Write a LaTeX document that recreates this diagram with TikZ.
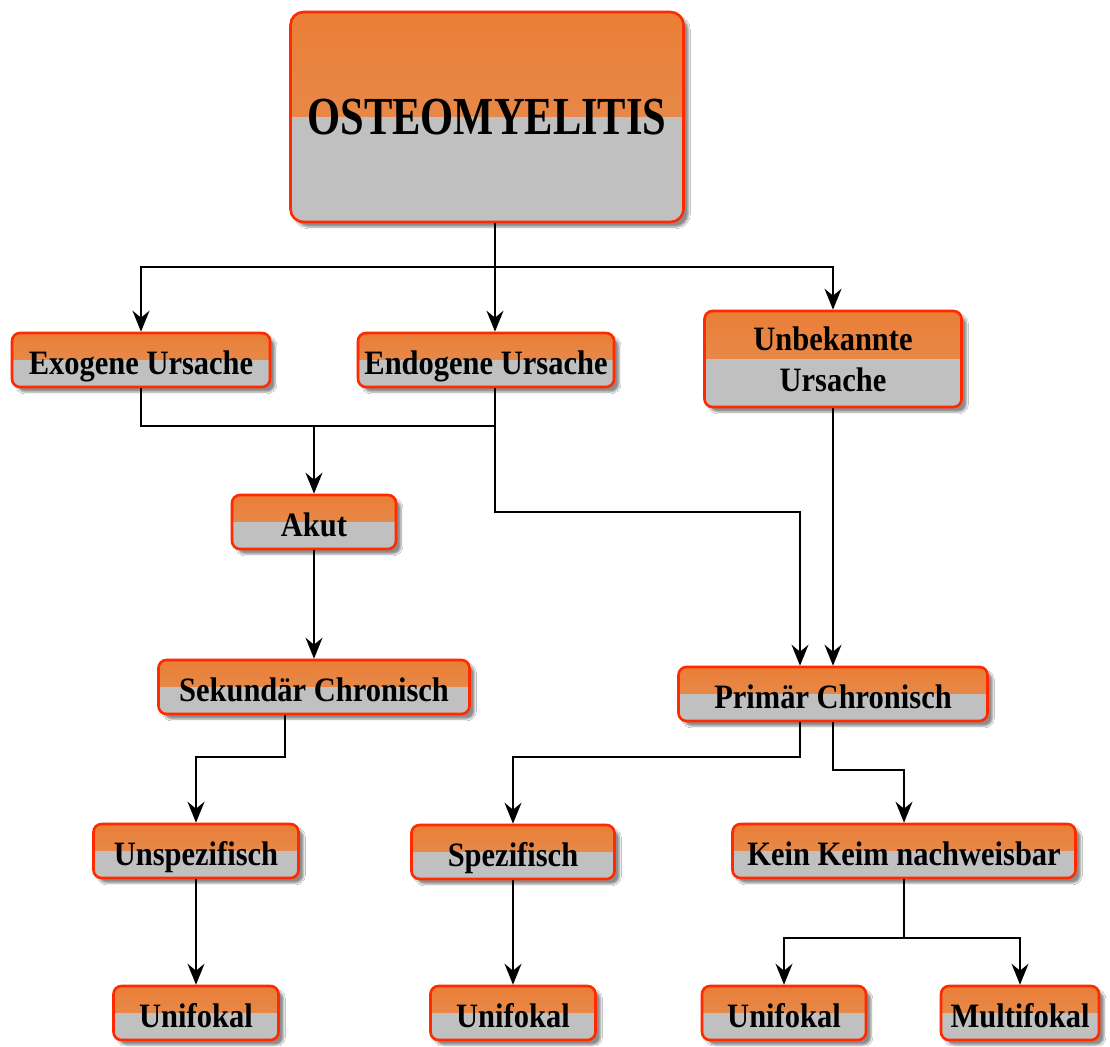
\documentclass[tikz,border=0pt]{standalone}
\usepackage{fontspec}
\usepackage{graphicx}
\setmainfont{Liberation Serif}
\usetikzlibrary{arrows.meta,shadows.blur}
\definecolor{ortop}{HTML}{EA7E36}
\definecolor{orbot}{HTML}{E4925A}
\definecolor{boxgray}{HTML}{C0C0C0}
\definecolor{boxred}{HTML}{FF2A00}
\newcommand{\tallx}[1]{\scalebox{1}[1.12]{#1}}
\tikzset{
  conn/.style={line width=1.6pt},
  arr/.style={conn, -{Stealth[length=21pt,width=17pt,inset=7pt]}},
  halfbox/.style={draw=boxred, line width=2.6pt, rounded corners=8pt,
    inner sep=0pt, minimum height=54pt, align=center,
    font=\bfseries\fontsize{30.5}{40}\selectfont,
    blur shadow={shadow xshift=5pt, shadow yshift=-5pt, shadow opacity=45},
    path picture={
      \shade[sharp corners, top color=ortop, bottom color=orbot]
        ([yshift=2pt]path picture bounding box.north west) rectangle ([yshift=-0.5pt]path picture bounding box.east);
      \fill[sharp corners, boxgray]
        (path picture bounding box.west) rectangle ([yshift=-2pt]path picture bounding box.south east);
    }},
  onerow/.style={halfbox, text height=28.6pt, text depth=0pt},
  titlebox/.style={halfbox, rounded corners=13pt, font=\bfseries\fontsize{42.5}{48}\selectfont,
    text height=36pt, text depth=0pt}
}
\begin{document}
\begin{tikzpicture}[x=1pt,y=-1pt]
  \useasboundingbox[fill=white] (0,0) rectangle (1110,1046);
  % boxes
  \node[titlebox, minimum width=393pt, minimum height=210pt] (osteo) at (487,117) {\scalebox{1}[1.26]{OSTEOMYELITIS}};
  \node[onerow, minimum width=258pt] (exo) at (141,360) {\tallx{Exogene Ursache}};
  \node[onerow, minimum width=256pt] (endo) at (486,360) {\tallx{Endogene Ursache}};
  \node[halfbox, minimum width=257pt, minimum height=96pt] (unbek) at (833,359) {\tallx{Unbekannte}\\[1pt]\tallx{Ursache}};
  \node[onerow, minimum width=164pt] (akut) at (314,522) {\tallx{Akut}};
  \node[onerow, minimum width=311pt] (sek) at (314,687) {\tallx{Sekundär Chronisch}};
  \node[onerow, minimum width=309pt] (prim) at (833,694) {\tallx{Primär Chronisch}};
  \node[onerow, minimum width=205pt] (unsp) at (196,851) {\tallx{Unspezifisch}};
  \node[onerow, minimum width=203pt] (spez) at (513,852) {\tallx{Spezifisch}};
  \node[onerow, minimum width=343pt] (kein) at (904,851) {\tallx{Kein Keim nachweisbar}};
  \node[onerow, minimum width=165pt] (uni1) at (196,1013) {\tallx{Unifokal}};
  \node[onerow, minimum width=165pt] (uni2) at (513,1013) {\tallx{Unifokal}};
  \node[onerow, minimum width=164pt] (uni3) at (784,1013) {\tallx{Unifokal}};
  \node[onerow, minimum width=158pt] (multi) at (1020,1013) {\tallx{Multifokal}};
  % junctions
  \coordinate (j1) at (495,267);
  \coordinate (j2) at (314,426);
  \coordinate (j3) at (495,426);
  \coordinate (j4) at (800,512);
  \coordinate (j5) at (285,757);
  \coordinate (j6) at (800,757);
  \coordinate (j7) at (833,770);
  \coordinate (j8) at (904,938);
  % connectors
  \draw[conn] (osteo.south -| j1) -- (j1);
  \draw[arr] (j1) -| (exo.north);
  \draw[arr] (j1) -- (endo.north -| j1);
  \draw[arr] (j1) -| (unbek.north);
  \draw[conn] (exo.south) |- (j3);
  \draw[conn] (endo.south -| j3) -- (j3);
  \draw[arr] (j2) -- (akut.north);
  \draw[arr] (j3) |- (j4) -- (prim.north -| j4);
  \draw[arr] (unbek.south) -- (prim.north);
  \draw[arr] (akut.south) -- (sek.north);
  \draw[arr] (sek.south -| j5) -- (j5) -| (unsp.north);
  \draw[arr] (prim.south -| j6) -- (j6) -| (spez.north);
  \draw[arr] (prim.south) -- (j7) -| (kein.north);
  \draw[arr] (unsp.south) -- (uni1.north);
  \draw[arr] (spez.south) -- (uni2.north);
  \draw[conn] (kein.south) -- (j8);
  \draw[arr] (j8) -| (uni3.north);
  \draw[arr] (j8) -| (multi.north);
\end{tikzpicture}
\end{document}
